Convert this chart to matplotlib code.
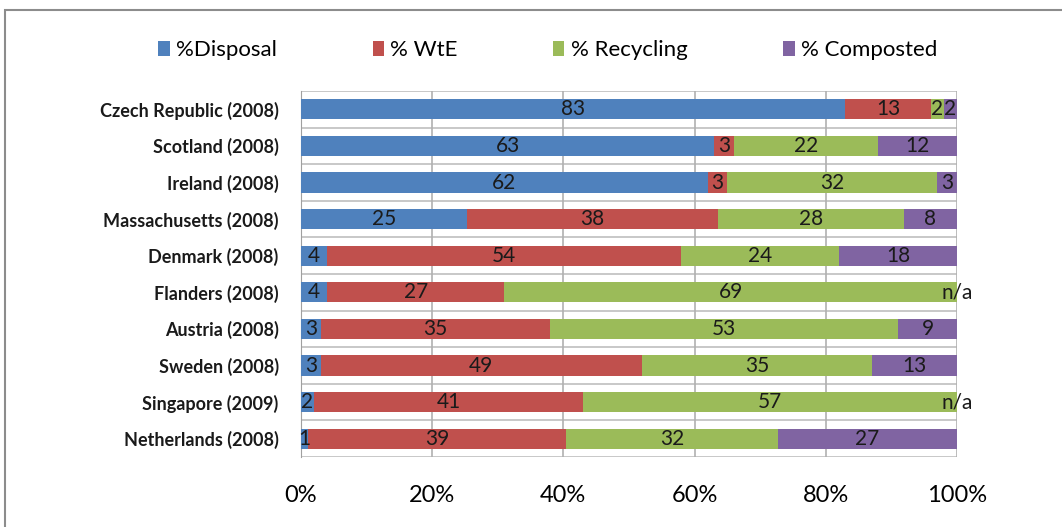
import matplotlib
matplotlib.use("Agg")
import matplotlib.pyplot as plt
import numpy as np
from matplotlib.patches import Rectangle

plt.rcParams['font.family'] = ['Lato', 'DejaVu Sans']

categories = ["Czech Republic (2008)", "Scotland (2008)", "Ireland (2008)",
              "Massachusetts (2008)", "Denmark (2008)", "Flanders (2008)",
              "Austria (2008)", "Sweden (2008)", "Singapore (2009)",
              "Netherlands (2008)"]
series_names = ["%Disposal", "% WtE", "% Recycling", "% Composted"]
disposal = [83, 63, 62, 25, 4, 4, 3, 3, 2, 1]
wte = [13, 3, 3, 38, 54, 27, 35, 49, 41, 39]
recycling = [2, 22, 32, 28, 24, 69, 53, 35, 57, 32]
composted = [2, 12, 3, 8, 18, None, 9, 13, None, 27]
colors = ["#4F81BD", "#C0504D", "#9BBB59", "#8064A2"]
xticks = [0, 20, 40, 60, 80, 100]

series = [disposal, wte, recycling, composted]
data = np.array([[0 if v is None else v for v in s] for s in series], dtype=float)
totals = data.sum(axis=0)
pct = data / totals * 100

fig = plt.figure(figsize=(10.62, 5.27), dpi=100)
fig.patches.append(Rectangle((0.005, -0.1), 1.2, 1.081, transform=fig.transFigure,
                             fill=False, edgecolor="#8C8C8C", linewidth=1.5))
ax = fig.add_axes([0.2834, 0.1328, 0.6177, 0.6945])

y = np.arange(len(categories))
left = np.zeros(len(categories))
for i, name in enumerate(series_names):
    ax.barh(y, pct[i], left=left, height=0.55, color=colors[i], label=name, zorder=3)
    for j in range(len(categories)):
        raw = series[i][j]
        cx = left[j] + pct[i][j] / 2
        txt = "n/a" if raw is None else str(raw)
        ax.text(cx, y[j], txt, ha="center", va="center", fontsize=15, color="#1a1a1a", zorder=4)
    left += pct[i]

ax.set_xlim(0, 100)
ax.set_ylim(len(categories) - 0.5, -0.5)
ax.set_yticks(y)
ax.set_yticklabels(categories, fontsize=13, fontweight="bold", color="#1a1a1a")
ax.set_xticks(xticks)
ax.set_xticklabels([f"{t}%" for t in xticks], fontsize=17)
ax.tick_params(axis="both", length=0)
ax.tick_params(axis="x", pad=20)
ax.tick_params(axis="y", pad=16)
for yy in np.arange(-0.5, len(categories), 1.0):
    ax.axhline(yy, color="#BFBFBF", linewidth=1.2, zorder=1)
for xx in xticks:
    ax.axvline(xx, color="#B0B0B0", linewidth=1.2, zorder=1)
for s in ax.spines.values():
    s.set_visible(False)
ax.spines["left"].set_visible(True)
ax.spines["left"].set_color("#A0A0A0")

fig.legend(loc="center", bbox_to_anchor=(0.516, 0.905), ncol=4, frameon=False,
           fontsize=16, handlelength=0.5, handleheight=0.7, columnspacing=4.3,
           handletextpad=0.3)

fig.savefig("out.png", dpi=100)
